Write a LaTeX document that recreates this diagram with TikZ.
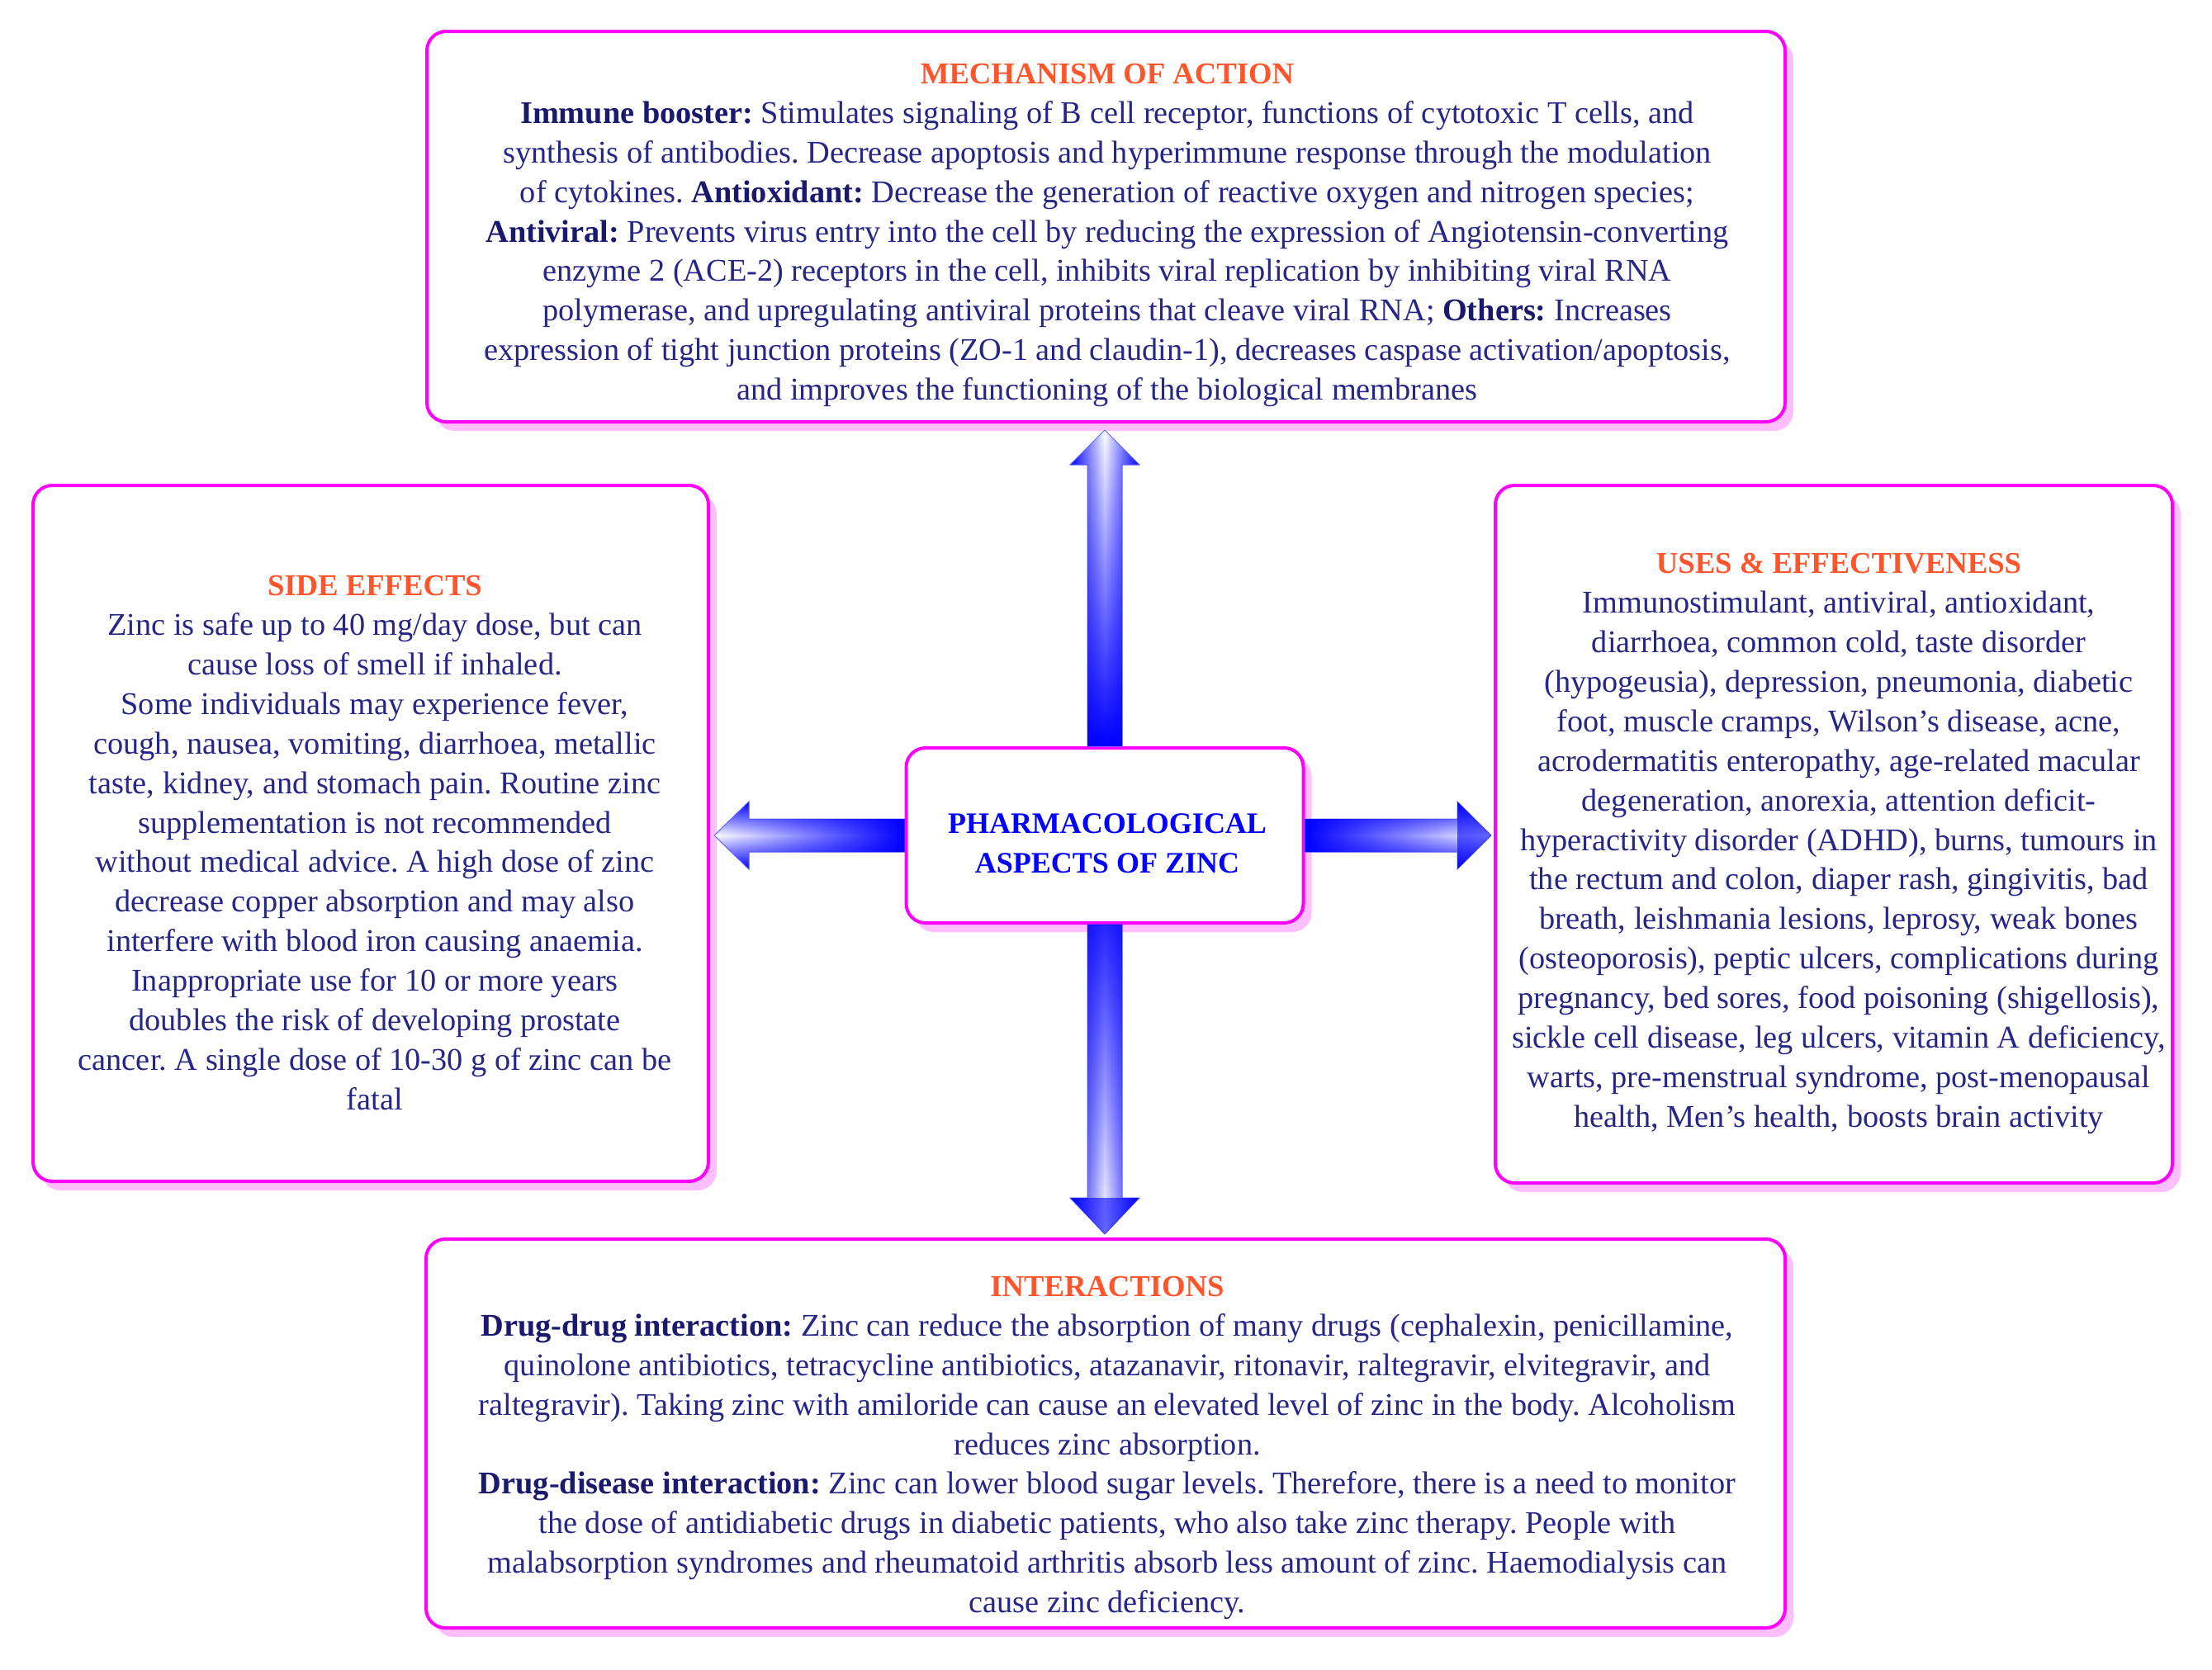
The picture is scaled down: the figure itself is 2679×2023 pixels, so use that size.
\documentclass[tikz,border=0pt]{standalone}
\usepackage{fontspec}
\setmainfont{Liberation Serif}
\usetikzlibrary{calc,fadings,shadows}
\definecolor{mag}{RGB}{255,0,255}
\definecolor{shpink}{RGB}{255,190,255}
\definecolor{ttl}{RGB}{255,85,45}
\definecolor{bodyc}{RGB}{38,38,135}
\definecolor{boldc}{RGB}{25,25,110}
\definecolor{zblue}{RGB}{0,0,255}
\newcommand\zT[1]{{\color{ttl}\bfseries\fontsize{11}{14.37}\selectfont #1}}
\newcommand\zB[1]{{\color{boldc}\bfseries #1}}
\newcommand\zArrow[4]{\path[#1] #4; \fill[zblue,path fading=#2,#3] #4;}
\tikzset{
  panel/.style={draw=mag, line width=1.2pt, rounded corners=7pt, fill=white,
    general shadow={fill=shpink, shadow xshift=3pt, shadow yshift=-3.3pt}},
  txt/.style={align=center, text=bodyc, inner sep=0pt,
    font=\frenchspacing\fontsize{11.5}{14.37}\selectfont},
  vshade/.style={draw=zblue!60, line width=0.3pt, left color=zblue, right color=zblue, middle color=white},
  hshade/.style={draw=zblue!60, line width=0.3pt, top color=zblue, bottom color=zblue, middle color=white},
  headtint/.style={fill=zblue, fill opacity=0.6},
}
\begin{document}
\begin{tikzpicture}[x=0.3pt,y=-0.3pt]
\useasboundingbox (0,0) rectangle (2679,2023);
\fill[white] (0,0) rectangle (2679,2023);
% boxes
\node[panel, minimum width=493.5pt, minimum height=141.9pt] (mech) at (1339.5,274.5) {};
\node[panel, minimum width=245.4pt, minimum height=252.9pt] (side) at (449,1009.5) {};
\node[panel, minimum width=246pt, minimum height=253.5pt] (uses) at (2221,1010.5) {};
\node[panel, minimum width=493.8pt, minimum height=141.3pt] (inter) at (1339,1736.5) {};
\node[panel, minimum width=144.3pt, minimum height=63.6pt] (ctr) at (1338,1012) {};
% arrows
\zArrow{vshade}{north}{}{let \p1=(ctr.north), \p2=(mech.south) in
  (\x1-6.3pt,\y1) -- (\x1-6.3pt,\y2-15pt) -- (\x1-12.6pt,\y2-15pt) -- (\x1,\y2-2.4pt) --
  (\x1+12.6pt,\y2-15pt) -- (\x1+6.3pt,\y2-15pt) -- (\x1+6.3pt,\y1) -- cycle}
\zArrow{vshade}{south}{opacity=0.85}{let \p1=(ctr.south), \p2=(inter.north) in
  (\x1-6.3pt,\y1) -- (\x1-6.3pt,\y2+14.4pt) -- (\x1-12.6pt,\y2+14.4pt) -- (\x1,\y2+1.2pt) --
  (\x1+12.6pt,\y2+14.4pt) -- (\x1+6.3pt,\y2+14.4pt) -- (\x1+6.3pt,\y1) -- cycle}
\path[headtint] let \p1=(ctr.south), \p2=(inter.north) in
  (\x1-12.6pt,\y2+14.4pt) -- (\x1,\y2+1.2pt) -- (\x1+12.6pt,\y2+14.4pt) -- cycle;
\zArrow{hshade}{west}{}{let \p1=(ctr.west), \p2=(side.east) in
  (\x1,\y1+6pt) -- (\x2+14.1pt,\y1+6pt) -- (\x2+14.1pt,\y1+12.3pt) -- (\x2+1.5pt,\y1) --
  (\x2+14.1pt,\y1-12.3pt) -- (\x2+14.1pt,\y1-6pt) -- (\x1,\y1-6pt) -- cycle}
\zArrow{hshade}{east}{}{let \p1=(ctr.east), \p2=(uses.west) in
  (\x1,\y1+6pt) -- (\x2-13.2pt,\y1+6pt) -- (\x2-13.2pt,\y1+12.3pt) -- (\x2-0.9pt,\y1) --
  (\x2-13.2pt,\y1-12.3pt) -- (\x2-13.2pt,\y1-6pt) -- (\x1,\y1-6pt) -- cycle}
\path[headtint] let \p1=(ctr.east), \p2=(uses.west) in
  (\x2-13.2pt,\y1+12.3pt) -- (\x2-0.9pt,\y1) -- (\x2-13.2pt,\y1-12.3pt) -- cycle;
% texts
\node[txt] (mechT) at (1341,285) {\zT{MECHANISM OF ACTION}\\
\zB{Immune booster:} Stimulates signaling of B cell receptor, functions of cytotoxic T cells, and\\
synthesis of antibodies. Decrease apoptosis and hyperimmune response through the modulation\\
of cytokines. \zB{Antioxidant:} Decrease the generation of reactive oxygen and nitrogen species;\\
\zB{Antiviral:} Prevents virus entry into the cell by reducing the expression of Angiotensin-converting\\
enzyme 2 (ACE-2) receptors in the cell, inhibits viral replication by inhibiting viral RNA\\
polymerase, and upregulating antiviral proteins that cleave viral RNA; \zB{Others:} Increases\\
expression of tight junction proteins (ZO-1 and claudin-1), decreases caspase activation/apoptosis,\\
and improves the functioning of the biological membranes};
\node[txt] (sideT) at (454,1021) {\zT{SIDE EFFECTS}\\
Zinc is safe up to 40 mg/day dose, but can\\
cause loss of smell if inhaled.\\
Some individuals may experience fever,\\
cough, nausea, vomiting, diarrhoea, metallic\\
taste, kidney, and stomach pain. Routine zinc\\
supplementation is not recommended\\
without medical advice. A high dose of zinc\\
decrease copper absorption and may also\\
interfere with blood iron causing anaemia.\\
Inappropriate use for 10 or more years\\
doubles the risk of developing prostate\\
cancer. A single dose of 10-30 g of zinc can be\\
fatal};
\node[txt] (usesT) at (2227,1022) {\zT{USES \& EFFECTIVENESS}\\
Immunostimulant, antiviral, antioxidant,\\
diarrhoea, common cold, taste disorder\\
(hypogeusia), depression, pneumonia, diabetic\\
foot, muscle cramps, Wilson’s disease, acne,\\
acrodermatitis enteropathy, age-related macular\\
degeneration, anorexia, attention deficit-\\
hyperactivity disorder (ADHD), burns, tumours in\\
the rectum and colon, diaper rash, gingivitis, bad\\
breath, leishmania lesions, leprosy, weak bones\\
(osteoporosis), peptic ulcers, complications during\\
pregnancy, bed sores, food poisoning (shigellosis),\\
sickle cell disease, leg ulcers, vitamin A deficiency,\\
warts, pre-menstrual syndrome, post-menopausal\\
health, Men's health, boosts brain activity};
\node[txt] (interT) at (1341,1754) {\zT{INTERACTIONS}\\
\zB{Drug-drug interaction:} Zinc can reduce the absorption of many drugs (cephalexin, penicillamine,\\
quinolone antibiotics, tetracycline antibiotics, atazanavir, ritonavir, raltegravir, elvitegravir, and\\
raltegravir). Taking zinc with amiloride can cause an elevated level of zinc in the body. Alcoholism\\
reduces zinc absorption.\\
\zB{Drug-disease interaction:} Zinc can lower blood sugar levels. Therefore, there is a need to monitor\\
the dose of antidiabetic drugs in diabetic patients, who also take zinc therapy. People with\\
malabsorption syndromes and rheumatoid arthritis absorb less amount of zinc. Haemodialysis can\\
cause zinc deficiency.};
\node[txt, text=zblue, font=\bfseries\fontsize{10.8}{14.37}\selectfont] (ctrT) at (1341,1022) {PHARMACOLOGICAL\\ASPECTS OF ZINC};
\end{tikzpicture}
\end{document}
